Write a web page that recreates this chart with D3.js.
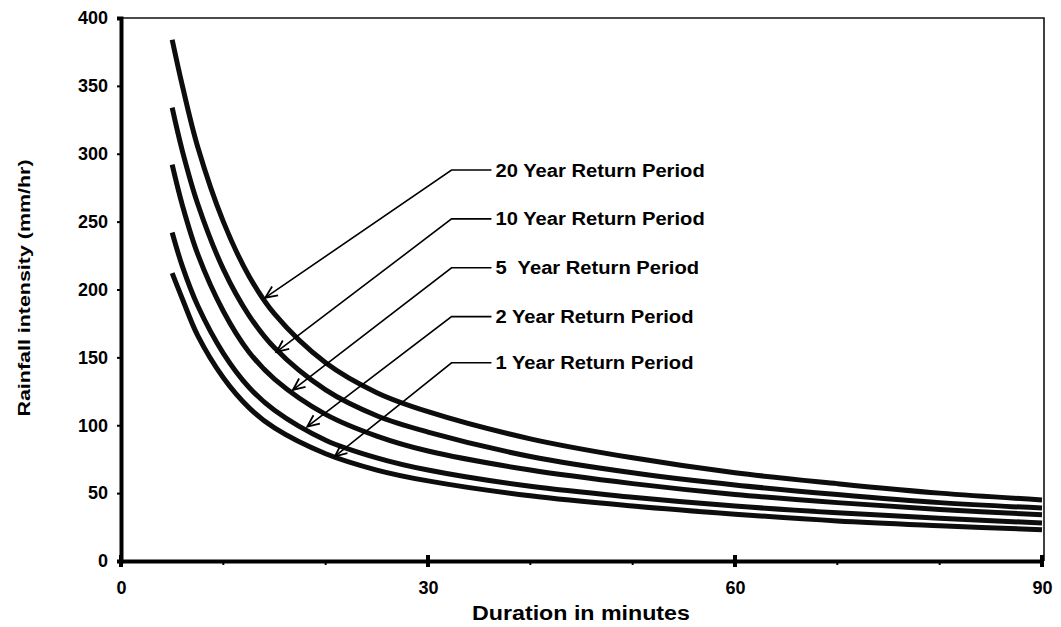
<!DOCTYPE html>
<html>
<head>
<meta charset="utf-8">
<script src="https://cdn.jsdelivr.net/npm/d3@7"></script>
<style>
  html, body { margin: 0; padding: 0; background: #fff; }
  svg { display: block; font-family: "Liberation Sans", Arial, sans-serif; }
</style>
</head>
<body>
<svg id="chart" width="1061" height="627"></svg>
<script>
// ---- data ----
const durations = [5, 6, 7.5, 10, 12.5, 15, 20, 25, 30, 40, 50, 60, 70, 80, 90];
const yr20 = [384, 350, 305, 250, 210, 182, 146, 124, 110, 90, 76, 65, 57, 50, 45];
const yr10 = [334, 302, 263, 215, 181, 157, 126, 107, 95, 77, 65, 56, 49, 43, 39];
const yr5  = [292, 262, 226, 184, 154, 134, 108, 92, 81, 67, 57, 49, 43, 38, 34];
const yr2  = [242, 217, 188, 153, 128, 111, 89, 76, 67, 55, 47, 40.5, 35.5, 31.5, 28];
const yr1  = [212, 193, 166, 135, 113, 98, 79, 67, 59, 48, 40.5, 34.5, 29.5, 26, 23];
const seriesValues = [yr20, yr10, yr5, yr2, yr1];

const xTicks = [0, 30, 60, 90];
const xMinorTicks = [10, 20, 40, 50, 70, 80];
const yTicks = [0, 50, 100, 150, 200, 250, 300, 350, 400];

const labelTexts = ["20 Year Return Period", "10 Year Return Period", "5  Year Return Period", "2 Year Return Period", "1 Year Return Period"];
const labelLevel = [288, 252, 216, 180, 146];           // intensity of each label line
const arrowTipDuration = [14.1, 15.2, 16.8, 18.2, 20.9];
const arrowTipIntensity = [194, 154, 126, 99, 77];

const xTitle = "Duration in minutes";
const yTitle = "Rainfall intensity (mm/hr)";

// ---- layout ----
const svg = d3.select("#chart");
const x = d3.scaleLinear().domain([0, 90]).range([121, 1042]);
const y = d3.scaleLinear().domain([0, 400]).range([561, 18]);

// frame (top/right thin)
svg.append("path")
  .attr("d", `M${x(0)},${y(400)} H${x(90) + 2} V${y(0)}`)
  .attr("fill", "none").attr("stroke", "#111").attr("stroke-width", 1.6);

// curves
const line = d3.line().x(d => x(d[0])).y(d => y(d[1])).curve(d3.curveCatmullRom.alpha(0.5));
seriesValues.forEach(vals => {
  svg.append("path")
    .datum(durations.map((t, i) => [t, vals[i]]))
    .attr("d", line)
    .attr("fill", "none")
    .attr("stroke", "#0d0d0d")
    .attr("stroke-width", 5)
    .attr("stroke-linecap", "butt");
});

// y axis
const yAxis = d3.axisLeft(y).tickValues(yTicks).tickSize(4).tickPadding(9);
const gy = svg.append("g").attr("transform", `translate(${x(0)},0)`).call(yAxis);
gy.select(".domain").attr("stroke", "#000").attr("stroke-width", 4);
gy.selectAll(".tick line").attr("stroke", "#000").attr("stroke-width", 2);
gy.selectAll(".tick text").attr("font-size", 18).attr("font-weight", "bold")
  .attr("font-family", "Liberation Sans, Arial, sans-serif").attr("fill", "#000");

// x axis
const xAxis = d3.axisBottom(x).tickValues(xTicks).tickSize(0).tickPadding(20);
const gx = svg.append("g").attr("transform", `translate(0,${y(0)})`).call(xAxis);
gx.select(".domain").attr("stroke", "#000").attr("stroke-width", 4);
gx.selectAll(".tick text").attr("font-size", 18).attr("font-weight", "bold")
  .attr("font-family", "Liberation Sans, Arial, sans-serif").attr("fill", "#000");
// major / minor tick marks on x axis
svg.append("g").selectAll("line").data(xTicks).join("line")
  .attr("x1", d => x(d)).attr("x2", d => x(d))
  .attr("y1", y(0) - 6).attr("y2", y(0) + 6)
  .attr("stroke", "#000").attr("stroke-width", 4);
svg.append("g").selectAll("line").data(xMinorTicks).join("line")
  .attr("x1", d => x(d)).attr("x2", d => x(d))
  .attr("y1", y(0)).attr("y2", y(0) + 4)
  .attr("stroke", "#000").attr("stroke-width", 2);

// axis titles
const xt = svg.append("text")
  .attr("x", 581).attr("y", 620)
  .attr("text-anchor", "middle")
  .attr("font-size", 20).attr("font-weight", "bold").attr("fill", "#000")
  .text(xTitle);
xt.attr("textLength", xt.node().getComputedTextLength() * 1.16).attr("lengthAdjust", "spacingAndGlyphs");

const yt = svg.append("text")
  .attr("transform", "translate(30,288) rotate(-90)")
  .attr("text-anchor", "middle")
  .attr("font-size", 17).attr("font-weight", "bold").attr("fill", "#000")
  .text(yTitle);
yt.attr("textLength", yt.node().getComputedTextLength() * 1.26).attr("lengthAdjust", "spacingAndGlyphs");

// annotations (leader lines with open arrowheads)
const elbowT = 32.3, lineEndT = 36.2, textStartT = 36.6;
labelTexts.forEach((txt, i) => {
  const ex = x(elbowT), ey = y(labelLevel[i]);
  const tx = x(arrowTipDuration[i]), ty = y(arrowTipIntensity[i]);
  svg.append("path")
    .attr("d", `M${x(lineEndT)},${ey} H${ex} L${tx},${ty}`)
    .attr("fill", "none").attr("stroke", "#000").attr("stroke-width", 1.6);
  // open arrowhead
  const ang = Math.atan2(ey - ty, ex - tx);
  const len = 13, spread = 0.42;
  const p1 = [tx + len * Math.cos(ang + spread), ty + len * Math.sin(ang + spread)];
  const p2 = [tx + len * Math.cos(ang - spread), ty + len * Math.sin(ang - spread)];
  svg.append("path")
    .attr("d", `M${p1[0]},${p1[1]} L${tx},${ty} L${p2[0]},${p2[1]}`)
    .attr("fill", "none").attr("stroke", "#000").attr("stroke-width", 1.8);
  const t = svg.append("text")
    .attr("x", x(textStartT)).attr("y", ey).attr("dy", "0.36em")
    .attr("font-size", 18).attr("font-weight", "bold").attr("fill", "#000")
    .style("white-space", "pre")
    .text(txt);
  t.attr("textLength", t.node().getComputedTextLength() * 1.12).attr("lengthAdjust", "spacingAndGlyphs");
});
</script>
</body>
</html>
